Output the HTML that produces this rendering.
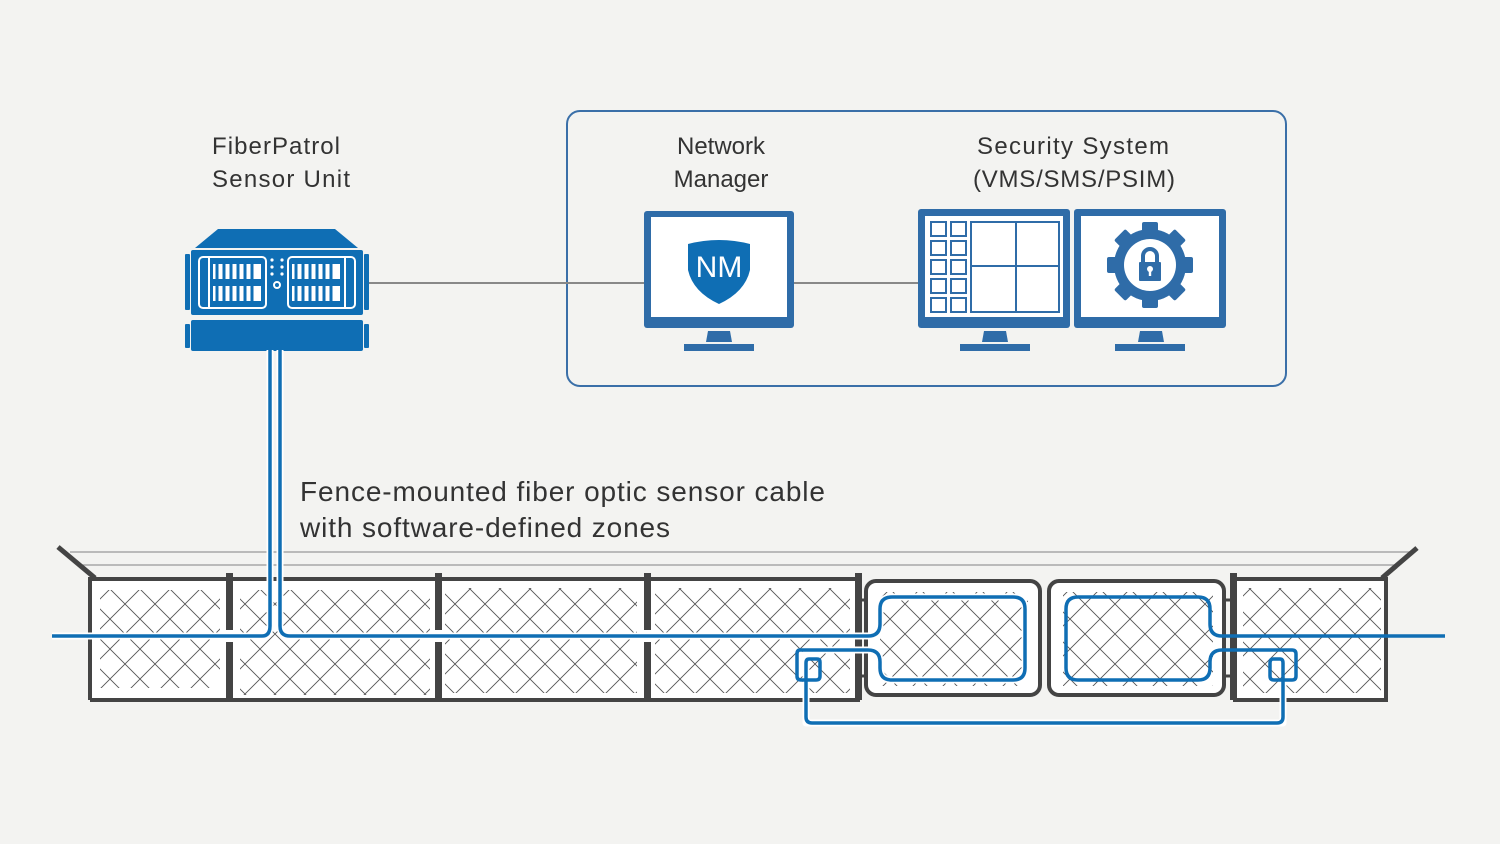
<!DOCTYPE html>
<html><head><meta charset="utf-8"><style>
html,body{margin:0;padding:0;background:#f3f3f1;}
svg{display:block;}
text{font-family:"Liberation Sans",sans-serif;fill:#333;}
</style></head><body>
<svg width="1500" height="844" viewBox="0 0 1500 844" xmlns="http://www.w3.org/2000/svg">
<defs>
<pattern id="mesh" width="30" height="30" patternUnits="userSpaceOnUse" patternTransform="translate(5,4)">
<path d="M0 0L30 30M30 0L0 30" stroke="#555" stroke-width="0.9"/>
</pattern>
</defs>
<rect width="1500" height="844" fill="#f3f3f1"/>

<text x="212" y="154" font-size="24" textLength="128">FiberPatrol</text>
<text x="212" y="187" font-size="24" textLength="138">Sensor Unit</text>
<text x="721" y="154" font-size="24" text-anchor="middle">Network</text>
<text x="721" y="187" font-size="24" text-anchor="middle">Manager</text>
<text x="1073" y="154" font-size="24" text-anchor="middle" textLength="192">Security System</text>
<text x="1074" y="187" font-size="24" text-anchor="middle" textLength="202">(VMS/SMS/PSIM)</text>
<text x="300" y="501" font-size="28" textLength="525">Fence-mounted fiber optic sensor cable</text>
<text x="300" y="537" font-size="28" textLength="370">with software-defined zones</text>

<rect x="567" y="111" width="719" height="275" rx="13" fill="none" stroke="#3a6fa8" stroke-width="2"/>
<line x1="365" y1="283" x2="920" y2="283" stroke="#888" stroke-width="2"/>

<g fill="#0f6eb4">
<polygon points="218,229 335,229 358,248 195,248"/>
<rect x="191" y="250" width="172" height="65" rx="2"/>
<rect x="185" y="254" width="5" height="56" rx="1"/>
<rect x="364" y="254" width="5" height="56" rx="1"/>
<rect x="191" y="320" width="172" height="31" rx="2"/>
<rect x="185" y="324" width="5" height="24" rx="1"/>
<rect x="364" y="324" width="5" height="24" rx="1"/>
</g>
<g fill="none" stroke="#fff" stroke-width="2">
<rect x="199" y="257" width="67" height="51" rx="4"/>
<rect x="288" y="257" width="67" height="51" rx="4"/>
<line x1="209" y1="257" x2="209" y2="308"/>
<line x1="345" y1="257" x2="345" y2="308"/>
<circle cx="277" cy="285" r="3"/>
</g>
<g fill="#fff">
<rect x="213" y="264" width="48" height="15"/><rect x="213" y="286" width="48" height="15"/>
<rect x="292" y="264" width="48" height="15"/><rect x="292" y="286" width="48" height="15"/>
<circle cx="272" cy="260" r="1.6"/><circle cx="282" cy="260" r="1.6"/>
<circle cx="272" cy="267" r="1.6"/><circle cx="282" cy="267" r="1.6"/>
<circle cx="272" cy="274" r="1.6"/><circle cx="282" cy="274" r="1.6"/>
</g>
<g stroke="#0f6eb4" stroke-width="3">
<line x1="217" y1="264" x2="217" y2="279"/><line x1="224" y1="264" x2="224" y2="279"/><line x1="231" y1="264" x2="231" y2="279"/><line x1="238" y1="264" x2="238" y2="279"/><line x1="245" y1="264" x2="245" y2="279"/><line x1="252" y1="264" x2="252" y2="279"/>
<line x1="217" y1="286" x2="217" y2="301"/><line x1="224" y1="286" x2="224" y2="301"/><line x1="231" y1="286" x2="231" y2="301"/><line x1="238" y1="286" x2="238" y2="301"/><line x1="245" y1="286" x2="245" y2="301"/><line x1="252" y1="286" x2="252" y2="301"/>
<line x1="296" y1="264" x2="296" y2="279"/><line x1="303" y1="264" x2="303" y2="279"/><line x1="310" y1="264" x2="310" y2="279"/><line x1="317" y1="264" x2="317" y2="279"/><line x1="324" y1="264" x2="324" y2="279"/><line x1="331" y1="264" x2="331" y2="279"/>
<line x1="296" y1="286" x2="296" y2="301"/><line x1="303" y1="286" x2="303" y2="301"/><line x1="310" y1="286" x2="310" y2="301"/><line x1="317" y1="286" x2="317" y2="301"/><line x1="324" y1="286" x2="324" y2="301"/><line x1="331" y1="286" x2="331" y2="301"/>
</g>

<g fill="#2f6ca8">
<rect x="644" y="211" width="150" height="117" rx="3"/>
<polygon points="708,331 730,331 732,342 706,342"/>
<rect x="684" y="344" width="70" height="7"/>
<rect x="918" y="209" width="152" height="119" rx="3"/>
<polygon points="984,331 1006,331 1008,342 982,342"/>
<rect x="960" y="344" width="70" height="7"/>
<rect x="1074" y="209" width="152" height="119" rx="3"/>
<polygon points="1140,331 1162,331 1164,342 1138,342"/>
<rect x="1115" y="344" width="70" height="7"/>
</g>
<g fill="#fff">
<rect x="651" y="217" width="136" height="100"/>
<rect x="925" y="216" width="138" height="101"/>
<rect x="1081" y="216" width="138" height="101"/>
</g>
<path d="M688 244 Q719 236 750 244 L750 270 Q745 292 719 304 Q693 292 688 270 Z" fill="#0f6eb4"/>
<text x="719" y="277" font-size="30" text-anchor="middle" style="fill:#fff">NM</text>
<g fill="none" stroke="#2f6ca8" stroke-width="2">
<rect x="931" y="222" width="15" height="14"/><rect x="951" y="222" width="15" height="14"/>
<rect x="931" y="241" width="15" height="14"/><rect x="951" y="241" width="15" height="14"/>
<rect x="931" y="260" width="15" height="14"/><rect x="951" y="260" width="15" height="14"/>
<rect x="931" y="279" width="15" height="14"/><rect x="951" y="279" width="15" height="14"/>
<rect x="931" y="298" width="15" height="14"/><rect x="951" y="298" width="15" height="14"/>
<rect x="971" y="222" width="88" height="90"/>
<line x1="1016" y1="222" x2="1016" y2="312"/><line x1="971" y1="266" x2="1059" y2="266"/>
</g>
<g fill="#2f6ca8" transform="translate(1150,265)">
<circle r="36"/>
<rect x="-8" y="-43" width="16" height="14" rx="2"/>
<rect x="-8" y="-43" width="16" height="14" rx="2" transform="rotate(45)"/>
<rect x="-8" y="-43" width="16" height="14" rx="2" transform="rotate(90)"/>
<rect x="-8" y="-43" width="16" height="14" rx="2" transform="rotate(135)"/>
<rect x="-8" y="-43" width="16" height="14" rx="2" transform="rotate(180)"/>
<rect x="-8" y="-43" width="16" height="14" rx="2" transform="rotate(225)"/>
<rect x="-8" y="-43" width="16" height="14" rx="2" transform="rotate(270)"/>
<rect x="-8" y="-43" width="16" height="14" rx="2" transform="rotate(315)"/>
<circle r="26" fill="#fff"/>
<rect x="-11" y="-3" width="22" height="19" rx="1"/>
<path d="M-7 -3 V-9 A7 7 0 0 1 7 -9 V-3" fill="none" stroke="#2f6ca8" stroke-width="4"/>
<circle cy="4" r="3" fill="#fff"/><rect x="-1.2" y="4" width="2.4" height="7" fill="#fff"/>
</g>

<line x1="70" y1="552" x2="1410" y2="552" stroke="#999" stroke-width="1.2"/>
<line x1="80" y1="565" x2="1400" y2="565" stroke="#999" stroke-width="1.2"/>
<path d="M58 547 L95 578" stroke="#444" stroke-width="5"/>
<path d="M1417 548 L1382 578" stroke="#444" stroke-width="5"/>

<g fill="#fff">
<rect x="90" y="579" width="770" height="121"/>
<rect x="1233" y="579" width="153" height="121"/>
</g>
<g fill="url(#mesh)">
<rect x="100" y="590" width="120" height="98"/>
<rect x="240" y="590" width="190" height="105"/>
<rect x="445" y="588" width="192" height="105"/>
<rect x="655" y="588" width="195" height="105"/>
<rect x="1243" y="588" width="138" height="105"/>
</g>
<path d="M90 700 V579 H860 M90 700 H860 M1233 579 H1386 V700 H1233" fill="none" stroke="#444" stroke-width="4"/>
<g fill="#444">
<rect x="226" y="573" width="7" height="127"/>
<rect x="435" y="573" width="7" height="127"/>
<rect x="644" y="573" width="7" height="127"/>
<rect x="855" y="573" width="7" height="127"/>
<rect x="1230" y="573" width="7" height="127"/>
</g>
<g fill="#fff">
<rect x="226" y="630" width="7" height="12"/>
<rect x="435" y="630" width="7" height="12"/>
<rect x="644" y="630" width="7" height="12"/>
</g>
<rect x="866" y="581" width="174" height="114" rx="10" fill="#fff" stroke="#444" stroke-width="4"/>
<rect x="1049" y="581" width="175" height="114" rx="10" fill="#fff" stroke="#444" stroke-width="4"/>
<rect x="880" y="592" width="148" height="94" fill="url(#mesh)"/>
<rect x="1063" y="592" width="150" height="94" fill="url(#mesh)"/>
<line x1="860" y1="600" x2="868" y2="600" stroke="#444" stroke-width="3"/>
<line x1="860" y1="676" x2="868" y2="676" stroke="#444" stroke-width="3"/>
<line x1="1224" y1="600" x2="1232" y2="600" stroke="#444" stroke-width="3"/>
<line x1="1224" y1="676" x2="1232" y2="676" stroke="#444" stroke-width="3"/>

<g fill="none" stroke-linejoin="round">
<g stroke="#fff" stroke-width="7">
<path d="M52 636 H262 Q270 636 270 626 V350"/>
<path d="M280 350 V626 Q280 636 290 636 H868 Q880 636 880 624 V609 Q880 597 892 597 H1013 Q1025 597 1025 609 V668 Q1025 680 1013 680 H892 Q880 680 880 668 V662 Q880 650 868 650 H806 V723 H1283 V680"/>
</g>
<g stroke="#0f6eb4" stroke-width="3.5">
<path d="M52 636 H262 Q270 636 270 626 V350"/>
<path d="M280 350 V626 Q280 636 290 636 H868 Q880 636 880 624 V609 Q880 597 892 597 H1013 Q1025 597 1025 609 V668 Q1025 680 1013 680 H892 Q880 680 880 668 V662 Q880 650 868 650 H806"/>
<path d="M806 650 H800 Q797 650 797 654 V676 Q797 680 801 680 H816 Q820 680 820 676 V662 Q820 659 817 659 H809 Q806 659 806 663 V717 Q806 723 812 723 H1277 Q1283 723 1283 717 V663 Q1283 659 1280 659 H1273 Q1270 659 1270 663 V676 Q1270 680 1274 680 H1292 Q1296 680 1296 676 V654 Q1296 650 1292 650 H1222 Q1210 650 1210 662 V668 Q1210 680 1198 680 H1078 Q1066 680 1066 668 V609 Q1066 597 1078 597 H1198 Q1210 597 1210 609 V624 Q1210 636 1222 636 H1445"/>
</g>
</g>
</svg>
</body></html>
